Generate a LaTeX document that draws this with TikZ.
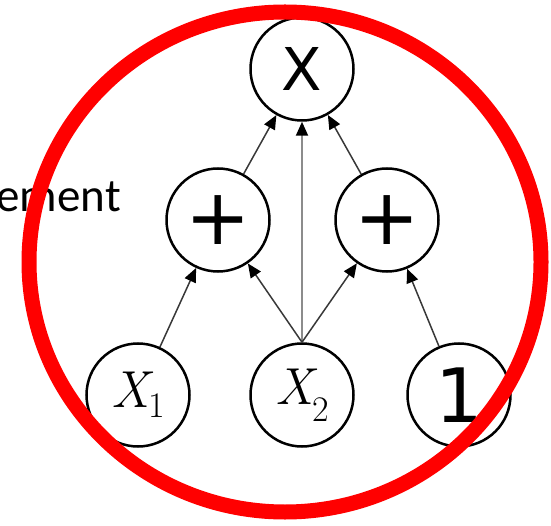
\documentclass[tikz,border=0pt]{standalone}
\usepackage{fontspec}
\newfontfamily\arialf{Liberation Sans}
\newfontfamily\dejavuf{DejaVu Sans}
\newfontfamily\calibf{Carlito}
\usetikzlibrary{arrows.meta}
\newcommand{\varsub}[3]{{\fontsize{52}{52}\selectfont\itshape #1}\kern-1pt\raisebox{-#3pt}{\fontsize{36}{36}\selectfont #2}}
\begin{document}
\begin{tikzpicture}[x=1pt,y=-1pt,
  gnode/.style={circle,draw=black,line width=2.5pt,fill=white,minimum size=103pt,inner sep=0pt},
  edge/.style={draw=black!78,line width=1.5pt,-{Triangle[length=14pt,width=12pt,color=black]}},
  vedge/.style={edge,draw=black!45,line width=2pt},
  ring/.style={draw=red,line width=15pt}]
\useasboundingbox (0,0) rectangle (551,526);
\node[anchor=base east,inner sep=0pt,font=\calibf\fontsize{47}{47}\selectfont] (word) at (121,212) {ement};
\node[gnode,font=\dejavuf\fontsize{59}{59}\selectfont] (mul) at (302,69) {X};
\node[gnode,font=\dejavuf\fontsize{78}{78}\selectfont] (pl) at (218,220) {+};
\node[gnode,font=\dejavuf\fontsize{78}{78}\selectfont] (pr) at (387,220) {+};
\node[gnode] (x1) at (138,395) {\varsub{X}{1}{10}};
\node[gnode] (x2) at (302,395) {\varsub{X}{2}{17}};
\node[gnode,font=\dejavuf\fontsize{75}{75}\selectfont] (one) at (459,395) {1};
\draw[edge] (pl) -- (mul);
\draw[edge] (pr) -- (mul);
\draw[vedge] (x2.north) -- (mul.south);
\draw[edge] (x1) -- (pl);
\draw[edge] (x2.north) -- (pl);
\draw[edge] (x2.north) -- (pr);
\draw[edge] (one) -- (pr);
\draw[ring] (285,262) ellipse [x radius=256pt, y radius=250pt];
\end{tikzpicture}
\end{document}
